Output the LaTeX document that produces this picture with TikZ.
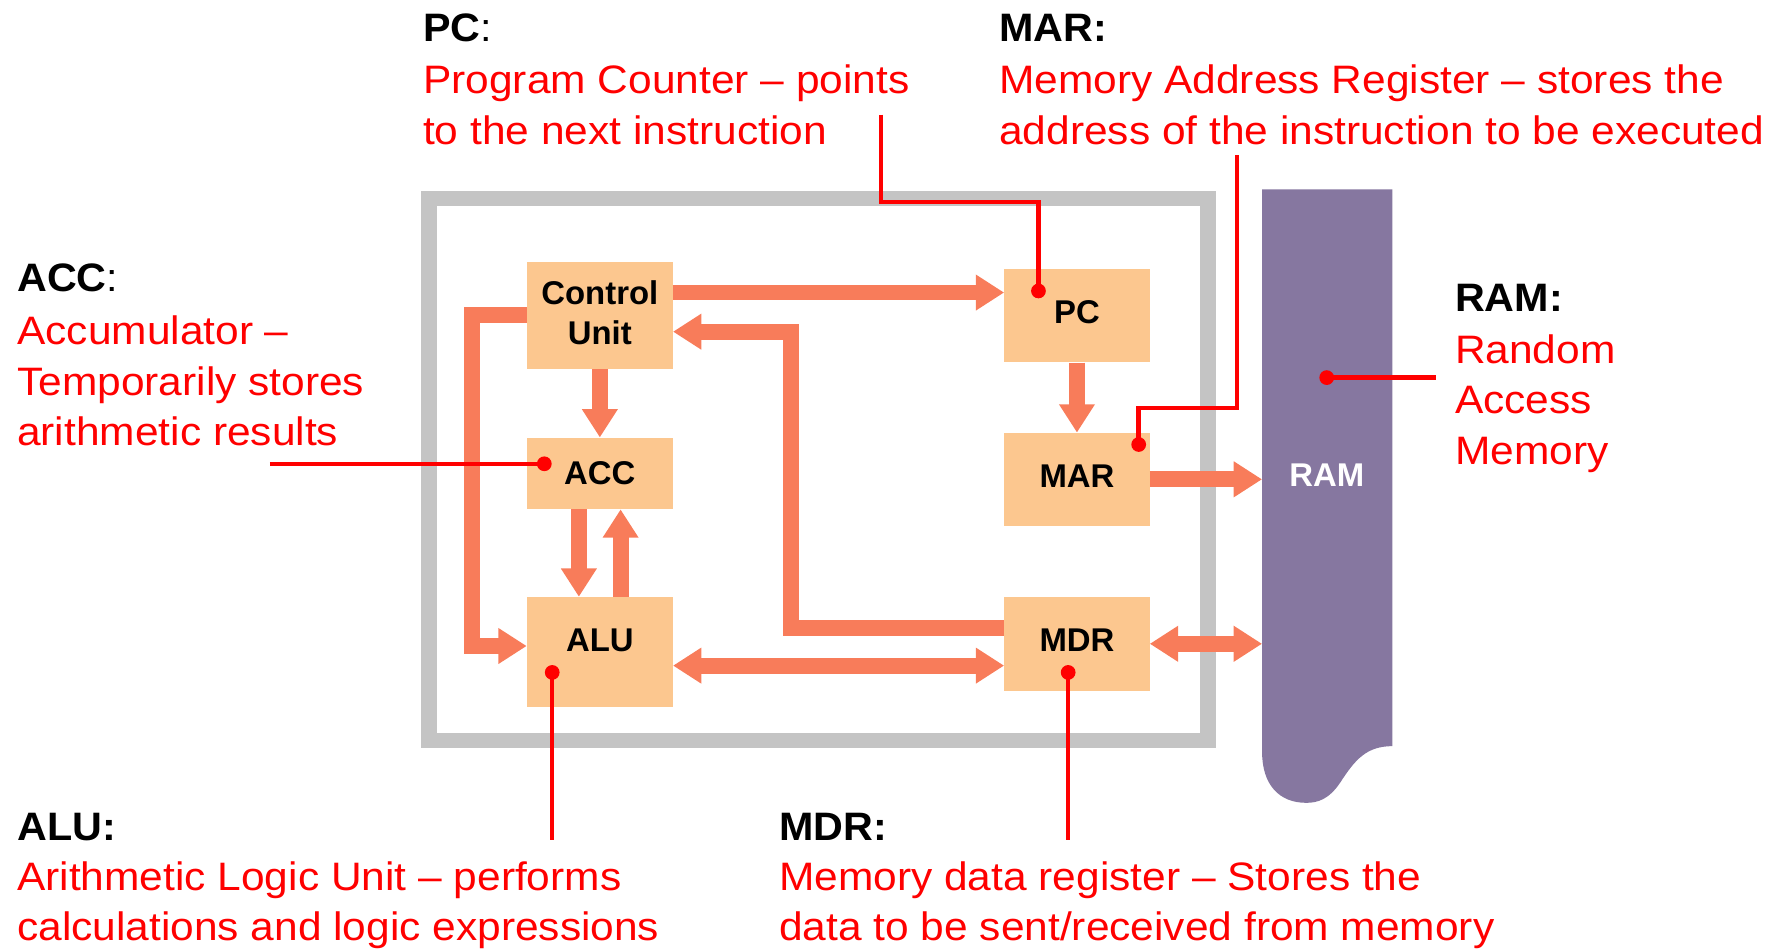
\documentclass[tikz,border=0pt]{standalone}
\usepackage{fontspec}
\setmainfont{Liberation Sans}
\newfontfamily\redfont[FakeStretch=1.07]{Liberation Sans}
\newfontfamily\headfont[FakeStretch=1.04]{Liberation Sans}
\usetikzlibrary{arrows.meta}
\definecolor{boxc}{RGB}{252,199,143}
\definecolor{busc}{RGB}{248,124,90}
\definecolor{framec}{RGB}{196,196,196}
\definecolor{ramc}{RGB}{134,119,160}
\definecolor{callred}{RGB}{255,0,0}
\begin{document}
\begin{tikzpicture}[x=1pt,y=-1pt,
 unit/.style={fill=boxc, draw=none, minimum width=128.6pt, inner sep=0pt, align=center, font=\fontsize{29}{35}\selectfont\bfseries},
 bus/.style={draw=busc, line width=14pt, line join=miter, -{Triangle[width=30pt,length=25pt]}},
 dbus/.style={draw=busc, line width=14pt, {Triangle[width=30pt,length=25pt]}-{Triangle[width=30pt,length=25pt]}},
 callout/.style={draw=callred, line width=4pt},
 dotc/.style={circle, fill=callred, inner sep=0pt, minimum size=13pt},
 head/.style={anchor=base west, inner sep=0pt, font=\headfont\fontsize{35}{44}\selectfont},
 desc/.style={anchor=base west, inner sep=0pt, text=callred, font=\redfont\fontsize{35}{44}\selectfont}]
\useasboundingbox (0,0) rectangle (1568,838);
% frame
\draw[framec, line width=14pt] (378,175) rectangle (1065,653);
% RAM
\fill[ramc] (1113,167) -- (1228,167) -- (1228,658)
  .. controls (1205,658) and (1195,670) .. (1182,690)
  .. controls (1172,705) and (1162,708) .. (1152,708)
  .. controls (1128,708) and (1113,692) .. (1113,663) -- cycle;
\node[text=white, font=\fontsize{29}{35}\selectfont\bfseries] (ram) at (1170,419) {RAM};
\coordinate (ramL) at (1113,419);
% units
\node[unit, minimum height=94pt, text depth=5pt] (cu) at (529,278) {Control\\Unit};
\node[unit, minimum height=63pt] (acc) at (529,417.5) {ACC};
\node[unit, minimum height=97pt, text depth=20pt] (alu) at (529,575) {ALU};
\node[unit, minimum width=128pt, minimum height=82.6pt, text depth=6pt] (pc) at (949.75,278.3) {PC};
\node[unit, minimum width=128pt, minimum height=82pt, text depth=6pt] (mar) at (949.75,422.7) {MAR};
\node[unit, minimum width=128pt, minimum height=82.5pt, text depth=6pt] (mdr) at (949.75,567.75) {MDR};
% buses
\coordinate (c1) at ([yshift=20pt]cu.east);
\draw[bus] (c1) -- (c1 -| pc.west);
\coordinate (c2) at ([yshift=13.75pt]mdr.west);
\coordinate (v2) at (697.6,292.5);
\draw[bus] (c2) -| (v2) -- (v2 -| cu.east);
\draw[bus] (cu.south) -- (acc.north);
\coordinate (c4) at ([xshift=-18.5pt]acc.south);
\draw[bus] (c4) -- (c4 |- alu.north);
\coordinate (c5) at ([xshift=18.3pt]alu.north);
\draw[bus] (c5) -- (c5 |- acc.south);
\coordinate (c6) at ([yshift=5.3pt]alu.west);
\coordinate (v6) at (416,400);
\draw[bus] (cu.west) -| (v6 |- c6) -- (c6);
\coordinate (c7) at ([yshift=-12pt]alu.east);
\draw[dbus] (c7) -- (c7 -| mdr.west);
\draw[bus] (pc.south) -- (mar.north);
\draw[bus] (mar.east) -- (mar.east -| ramL);
\draw[dbus] (mdr.east) -- (mdr.east -| ramL);
% callouts
\node[dotc] (pcdot) at (915.8,256.6) {};
\coordinate (pcL) at (777,101);
\coordinate (pcbend) at (777,178);
\draw[callout] (pcL) -- (pcbend) -| (pcdot.center);
\node[dotc] (mardot) at (1004.2,392) {};
\coordinate (marL) at (1091,137);
\coordinate (marbend) at (1091,360);
\draw[callout] (marL) -- (marbend) -| (mardot.center);
\node[dotc] (accdot) at (480,409) {};
\coordinate (accL) at (238,409);
\draw[callout] (accL) -- (accdot.center);
\node[dotc] (aludot) at (487,593) {};
\coordinate (aluL) at (487,741);
\draw[callout] (aludot.center) -- (aluL);
\node[dotc] (mdrdot) at (942,593) {};
\coordinate (mdrL) at (942,741);
\draw[callout] (mdrdot.center) -- (mdrL);
\node[dotc] (ramdot) at (1170,333) {};
\coordinate (ramR) at (1266,333);
\draw[callout] (ramdot.center) -- (ramR);
% texts
\node[head] (pch) at (373,36.8) {\textbf{PC}:};
\node[desc] (pc1) at (373,82.3) {Program Counter – points};
\node[desc] (pc2) at (373,127) {to the next instruction};
\node[head] (marh) at (881,36.8) {\textbf{MAR:}};
\node[desc] (mar1) at (881,82.3) {Memory Address Register – stores the};
\node[desc] (mar2) at (881,127) {address of the instruction to be executed};
\node[head] (acch) at (15,257.2) {\textbf{ACC}:};
\node[desc] (acc1) at (15,304.2) {Accumulator –};
\node[desc] (acc2) at (15,349) {Temporarily stores};
\node[desc] (acc3) at (15,392.5) {arithmetic results};
\node[head] (ramh) at (1283,274.9) {\textbf{RAM:}};
\node[desc] (ram1) at (1283,320.4) {Random};
\node[desc] (ram2) at (1283,365) {Access};
\node[desc] (ram3) at (1283,410) {Memory};
\node[head] (aluh) at (15,740.8) {\textbf{ALU:}};
\node[desc] (alu1) at (15,785.5) {Arithmetic Logic Unit – performs};
\node[desc] (alu2) at (15,829.5) {calculations and logic expressions};
\node[head] (mdrh) at (687,740.8) {\textbf{MDR:}};
\node[desc] (mdr1) at (687,785.5) {Memory data register – Stores the};
\node[desc] (mdr2) at (687,829.5) {data to be sent/received from memory};
\end{tikzpicture}
\end{document}
